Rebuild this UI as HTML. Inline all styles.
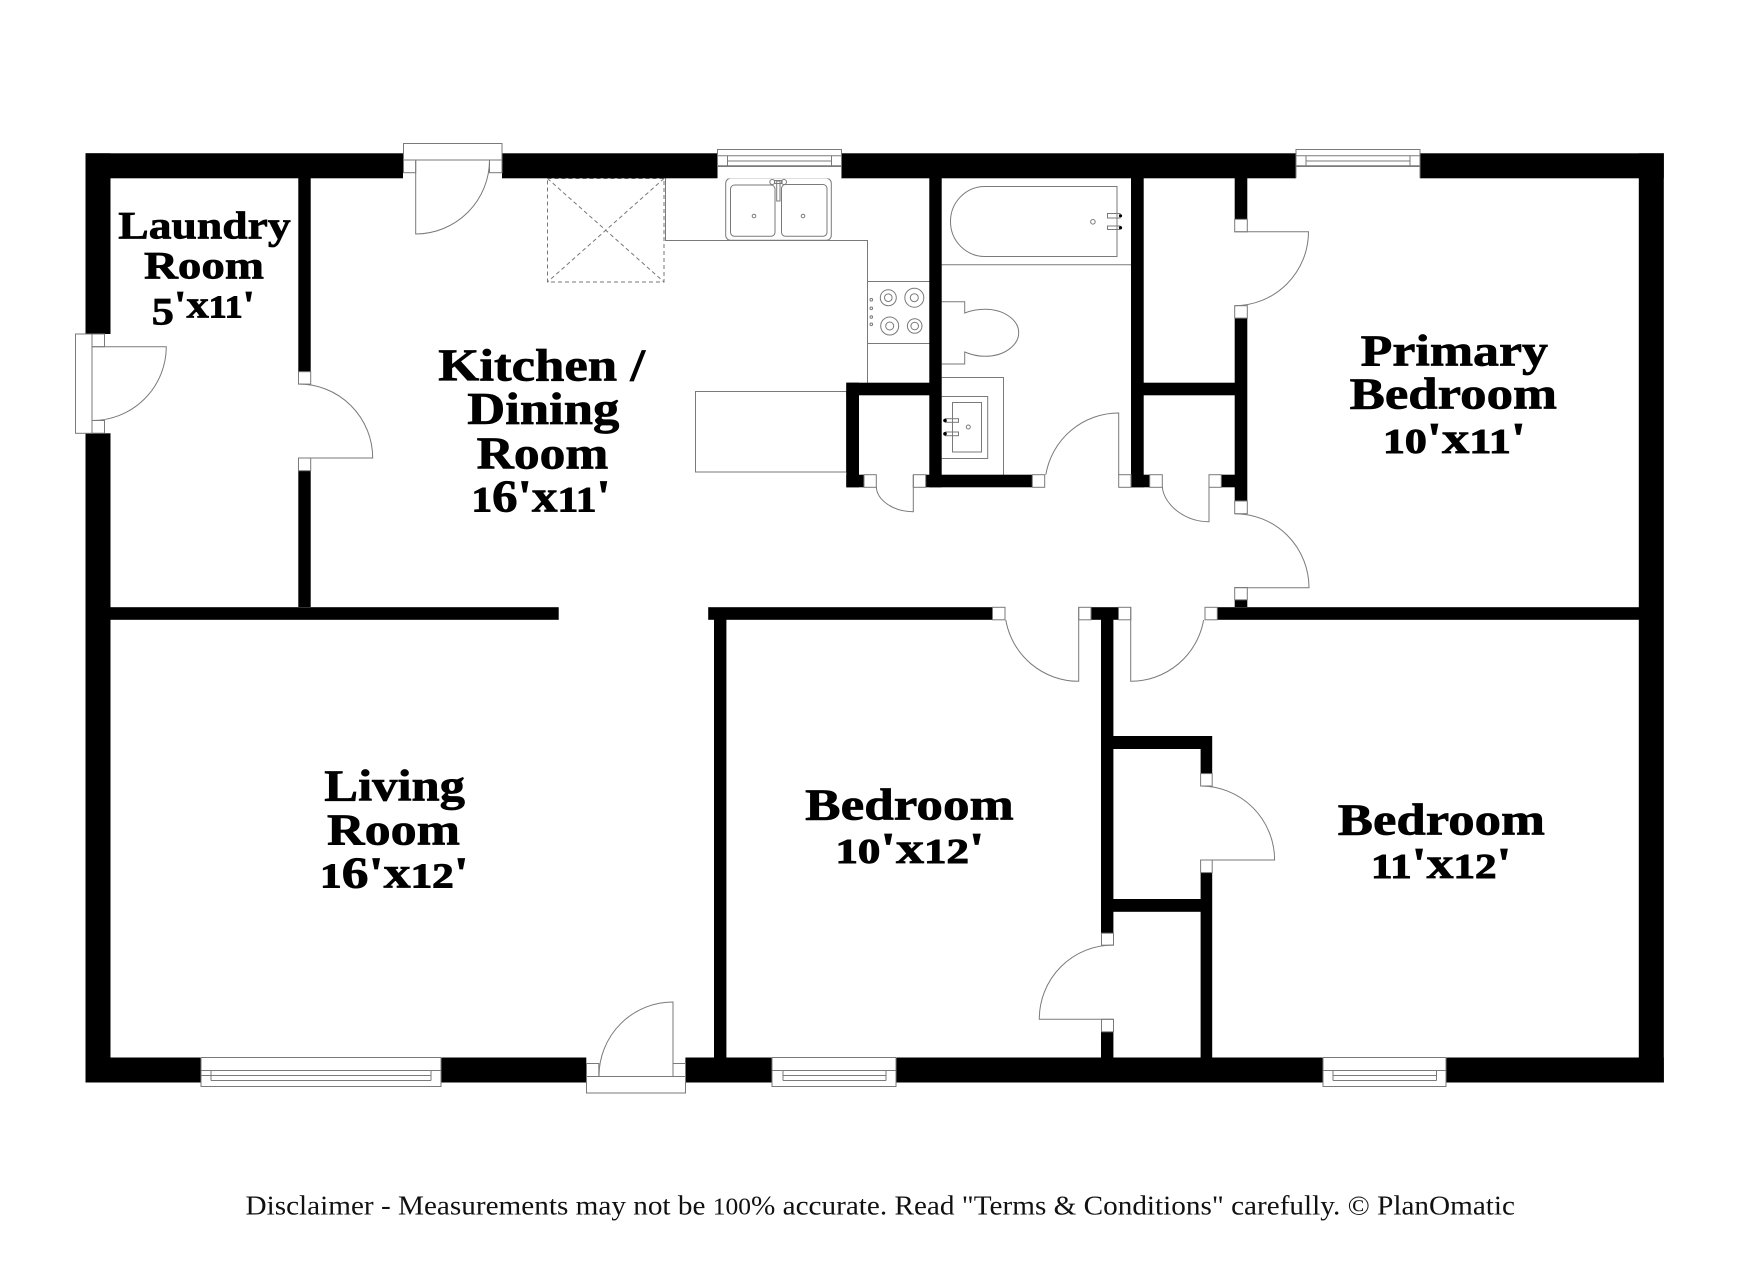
<!DOCTYPE html>
<html>
<head>
<meta charset="utf-8">
<style>
html,body{margin:0;padding:0;background:#fff;}
svg{display:block;}
.l{fill:#fff;stroke:#7a7a7a;stroke-width:1;}
.n{fill:none;stroke:#7a7a7a;stroke-width:1;}
.d{fill:none;stroke:#777;stroke-width:1;stroke-dasharray:4 3;}
.t{font-family:"Liberation Serif",serif;font-weight:bold;fill:#000;stroke:#000;stroke-width:.7;}
.s{font-size:80%;stroke-width:1;}
</style>
</head>
<body>
<svg width="1760" height="1280" viewBox="0 0 1760 1280" xmlns="http://www.w3.org/2000/svg">
<rect width="1760" height="1280" fill="#fff"/>

<!-- fixtures under walls -->
<g class="n">
<rect class="d" x="547.5" y="178.5" width="116.5" height="103.5"/>
<path class="d" d="M547.5 178.5L664 282M664 178.5L547.5 282"/>
<path d="M665.5 178V240.5H867.5V383"/>
<path d="M867.5 281.5H929.5M867.5 343.5H929.5"/>
<rect x="695.5" y="391.5" width="151" height="80.5"/>
<circle cx="888.3" cy="297.7" r="8"/><circle cx="888.3" cy="297.7" r="3.8"/>
<circle cx="914.3" cy="297.7" r="9.5"/><circle cx="914.3" cy="297.7" r="4"/>
<circle cx="889.7" cy="326" r="9"/><circle cx="889.7" cy="326" r="4"/>
<circle cx="914.7" cy="326" r="7.3"/><circle cx="914.7" cy="326" r="3.8"/>
<circle cx="871.3" cy="299.7" r="1.3"/><circle cx="871.3" cy="308.3" r="1.3"/><circle cx="871.3" cy="317" r="1.3"/><circle cx="871.3" cy="324.3" r="1.3"/>
<rect x="725.7" y="178.3" width="105.6" height="62" rx="5"/>
<rect x="730.5" y="185" width="44.5" height="51.3" rx="4"/>
<rect x="781.5" y="184.5" width="45.5" height="51.8" rx="4"/>
<circle cx="754" cy="216" r="1.8"/><circle cx="803" cy="216" r="1.8"/>
<circle cx="772.3" cy="182" r="2.5"/><circle cx="784" cy="182" r="2.5"/>
<rect x="774.5" y="180.5" width="7.5" height="3"/>
<rect x="776.7" y="181" width="3.3" height="20"/>
<path d="M1117 186.5H985C966 186.5 950.5 202 950.5 221.5C950.5 241 966 256.5 985 256.5H1117Z"/>
<circle cx="1092.9" cy="221.8" r="2.3"/>
<rect x="1107.5" y="213.5" width="12.5" height="4.5"/>
<rect x="1107.5" y="226" width="12.5" height="3.5"/>
<path d="M941.7 264.7H1131"/>
<path d="M941.7 301.7H964.7V313C972 310.3 978 309.3 985 309.3C1004 309.3 1018.7 320 1018.7 332.7C1018.7 345.5 1004 356.3 985 356.3C978 356.3 972 355 964.7 352V364H941.7"/>
<path d="M941.7 377.5H1003.5V475"/>
<path d="M941.7 396.5H987.7V458.5H941.7"/>
<rect x="952.5" y="402.5" width="29" height="49.5"/>
<circle cx="968.3" cy="427" r="2"/>
<rect x="945.5" y="418.7" width="13" height="3.6"/>
<rect x="945.5" y="432" width="13" height="3.7"/>
</g>
<g fill="#000">
<circle cx="1120.5" cy="215.8" r="1.6"/><circle cx="1120.5" cy="227.7" r="1.6"/>
<circle cx="945" cy="420.5" r="1.8"/><circle cx="945" cy="433.8" r="1.8"/>
</g>

<!-- walls -->
<g fill="#000">
<rect x="85.5" y="153.3" width="1578.3" height="25"/>
<rect x="85.5" y="1057.5" width="1578.3" height="25"/>
<rect x="85.5" y="153.3" width="25" height="929.2"/>
<rect x="1638.8" y="153.3" width="25" height="929.2"/>
<rect x="298.3" y="178" width="12.4" height="429"/>
<rect x="110" y="607.2" width="448.7" height="12.6"/>
<rect x="708.2" y="607.2" width="297" height="12.6"/>
<rect x="1078.7" y="607.2" width="52" height="12.6"/>
<rect x="1205" y="607.2" width="434" height="12.6"/>
<rect x="714" y="619" width="12.4" height="439"/>
<rect x="1101" y="619" width="12.4" height="439"/>
<rect x="1113" y="736" width="99" height="13"/>
<rect x="1200.6" y="736" width="11.6" height="322"/>
<rect x="1113" y="899" width="88" height="12.8"/>
<rect x="929.3" y="178" width="12.4" height="309.3"/>
<rect x="846.3" y="382.7" width="84" height="12.6"/>
<rect x="846.3" y="382.7" width="12.7" height="104.6"/>
<rect x="846.3" y="474.7" width="30" height="12.6"/>
<rect x="913.3" y="474.7" width="131.4" height="12.6"/>
<rect x="1118.7" y="474.7" width="43.6" height="12.6"/>
<rect x="1209" y="474.7" width="38" height="12.6"/>
<rect x="1131" y="178" width="12.7" height="309.3"/>
<rect x="1143" y="382.7" width="92" height="12.6"/>
<rect x="1234.7" y="178" width="12.6" height="429"/>
</g>

<!-- white openings -->
<g fill="#fff">
<rect x="85" y="334" width="26" height="99.3"/>
<rect x="403" y="153" width="99" height="25.5"/>
<rect x="717.3" y="153" width="124" height="25.5"/>
<rect x="1296" y="153" width="124" height="25.5"/>
<rect x="201" y="1057" width="239.8" height="26"/>
<rect x="772" y="1057" width="123.8" height="26"/>
<rect x="1323" y="1057" width="123" height="26"/>
<rect x="586.3" y="1057" width="99.1" height="26"/>
<rect x="298" y="371.7" width="13" height="99"/>
<rect x="1234" y="219.3" width="14" height="98.7"/>
<rect x="1234" y="501" width="14" height="98.7"/>
<rect x="1100.5" y="933.2" width="13.5" height="98.6"/>
<rect x="1200" y="773.6" width="13" height="99"/>
</g>

<!-- windows -->
<g>
<rect class="l" x="717.5" y="149.5" width="124" height="17"/>
<path class="n" d="M717.5 155.7H841.5M727.5 161H831.5M717.5 165.7H841.5M727.5 155.7V165.7M831.5 155.7V165.7M717.5 166V178M841.5 166V178"/>
<rect class="l" x="1296" y="149.5" width="124" height="17"/>
<path class="n" d="M1296 155.7H1420M1306 161H1410M1296 165.7H1420M1306 155.7V165.7M1410 155.7V165.7M1296 166V178M1420 166V178"/>
<rect class="l" x="201" y="1070.5" width="240" height="16"/>
<path class="n" d="M201 1075.5H431M211 1080.5H431M211 1070.5V1080.5M431 1070.5V1080.5M201 1057.5H441M201 1057.5V1070.5M441 1057.5V1070.5"/>
<rect class="l" x="772" y="1070.5" width="124" height="16"/>
<path class="n" d="M783 1075.5H886M783 1080.5H886M783 1070.5V1080.5M886 1070.5V1080.5M772 1057.5H896M772 1057.5V1070.5M896 1057.5V1070.5"/>
<rect class="l" x="1323" y="1070.5" width="123" height="16"/>
<path class="n" d="M1333 1075.5H1436.5M1333 1080.5H1436.5M1333 1070.5V1080.5M1436.5 1070.5V1080.5M1323 1057.5H1446M1323 1057.5V1070.5M1446 1057.5V1070.5"/>
</g>

<!-- exterior door frames -->
<g>
<rect class="l" x="403.5" y="143.5" width="98.5" height="16.5"/>
<rect class="l" x="403.5" y="160" width="12.2" height="12.7"/>
<rect class="l" x="489.5" y="160" width="12.5" height="12.7"/>
<rect class="l" x="75.5" y="334" width="16.5" height="99.3"/>
<rect class="l" x="92" y="334" width="12.5" height="12.7"/>
<rect class="l" x="92" y="420.5" width="12.5" height="12.7"/>
<rect class="l" x="586.5" y="1076.5" width="99" height="16.5"/>
<rect class="l" x="586.5" y="1063.5" width="12.3" height="13"/>
<rect class="l" x="673" y="1063.5" width="12.5" height="13"/>
</g>

<!-- jambs -->
<g class="l">
<rect x="298.5" y="371.7" width="12.2" height="12.4"/>
<rect x="298.5" y="458" width="12.2" height="12.7"/>
<rect x="992.5" y="607.3" width="12.5" height="12.5"/>
<rect x="1078.7" y="607.3" width="12.3" height="12.5"/>
<rect x="1118.5" y="607.3" width="12.3" height="12.5"/>
<rect x="1205" y="607.3" width="12.3" height="12.5"/>
<rect x="1101.5" y="933.2" width="12" height="12"/>
<rect x="1101.5" y="1019.3" width="12" height="12.5"/>
<rect x="1200.6" y="773.6" width="11.6" height="12.4"/>
<rect x="1200.6" y="860" width="11.6" height="12.6"/>
<rect x="864" y="474.7" width="12.3" height="12.6"/>
<rect x="913.3" y="474.7" width="12.4" height="12.6"/>
<rect x="1032.3" y="474.7" width="12.4" height="12.6"/>
<rect x="1118.7" y="474.7" width="12.3" height="12.6"/>
<rect x="1149.7" y="474.7" width="12.6" height="12.6"/>
<rect x="1209" y="474.7" width="12.3" height="12.6"/>
<rect x="1234.7" y="219.3" width="12.6" height="12.5"/>
<rect x="1234.7" y="305.7" width="12.6" height="12.4"/>
<rect x="1234.7" y="501" width="12.6" height="12.7"/>
<rect x="1234.7" y="587.5" width="12.6" height="12.3"/>
</g>

<!-- door swings -->
<g class="n">
<path d="M415.7 160V234A74 74 0 0 0 489.5 160"/>
<path d="M92 346.7H166.3A74 74 0 0 1 92 420.5Z"/>
<path d="M298.5 384A74 74 0 0 1 372.7 458H298.5"/>
<path d="M673 1076V1002A74 74 0 0 0 599 1076"/>
<path d="M1005.8 620A74 74 0 0 0 1078.7 681.3V607"/>
<path d="M1130.7 607V681.3A74 74 0 0 0 1203.6 620"/>
<path d="M1113.3 945A74 74 0 0 0 1039.3 1019.3H1113.3"/>
<path d="M1200.6 786A74 74 0 0 1 1274.6 860H1200.6"/>
<path d="M876.3 487C877 500 893 511.7 913.3 511.7V475"/>
<path d="M1045.8 474.7A74 74 0 0 1 1118.7 413V475"/>
<path d="M1162.3 487C1164 505 1185 521.7 1209 521.7V475"/>
<path d="M1234.7 231.8H1308.5A74 74 0 0 1 1234.7 305.7"/>
<path d="M1234.7 513.7A74 74 0 0 1 1309 587.7H1234.7"/>
</g>

<!-- labels -->
<g class="t">
<text x="118.3" y="238.3" font-size="39" textLength="172.4" lengthAdjust="spacingAndGlyphs">Laundry</text>
<text x="144" y="278.3" font-size="39" textLength="120" lengthAdjust="spacingAndGlyphs">Room</text>
<text x="151.7" y="317.3" font-size="39" textLength="103.3" lengthAdjust="spacingAndGlyphs"><tspan dy="7">5</tspan><tspan dy="-7">'x</tspan><tspan class="s">11</tspan>'</text>

<text x="438.3" y="380.7" font-size="45" textLength="206.7" lengthAdjust="spacingAndGlyphs">Kitchen /</text>
<text x="467.3" y="424" font-size="45" textLength="152" lengthAdjust="spacingAndGlyphs">Dining</text>
<text x="476.7" y="468.3" font-size="45" textLength="131.6" lengthAdjust="spacingAndGlyphs">Room</text>
<text x="471.5" y="511.7" font-size="45" textLength="139.2" lengthAdjust="spacingAndGlyphs"><tspan class="s">1</tspan>6'x<tspan class="s">11</tspan>'</text>

<text x="1360.7" y="365.4" font-size="44" textLength="187.3" lengthAdjust="spacingAndGlyphs">Primary</text>
<text x="1349.6" y="408.6" font-size="44" textLength="207.4" lengthAdjust="spacingAndGlyphs">Bedroom</text>
<text x="1383" y="452.9" font-size="44" textLength="143" lengthAdjust="spacingAndGlyphs"><tspan class="s">10</tspan>'x<tspan class="s">11</tspan>'</text>

<text x="324.3" y="800.7" font-size="44" textLength="140.7" lengthAdjust="spacingAndGlyphs">Living</text>
<text x="327" y="844.3" font-size="44" textLength="133" lengthAdjust="spacingAndGlyphs">Room</text>
<text x="320" y="887.5" font-size="44" textLength="148.8" lengthAdjust="spacingAndGlyphs"><tspan class="s">1</tspan>6'x<tspan class="s">12</tspan>'</text>

<text x="805.2" y="819.3" font-size="44" textLength="208.6" lengthAdjust="spacingAndGlyphs">Bedroom</text>
<text x="835.5" y="863.2" font-size="44" textLength="149" lengthAdjust="spacingAndGlyphs"><tspan class="s">10</tspan>'x<tspan class="s">12</tspan>'</text>

<text x="1337.8" y="834.3" font-size="44" textLength="207.2" lengthAdjust="spacingAndGlyphs">Bedroom</text>
<text x="1371" y="878.2" font-size="44" textLength="140.5" lengthAdjust="spacingAndGlyphs"><tspan class="s">11</tspan>'x<tspan class="s">12</tspan>'</text>
</g>

<text x="245.5" y="1214.5" font-family="'Liberation Serif',serif" font-size="27.5" fill="#111" textLength="1269.5" lengthAdjust="spacingAndGlyphs">Disclaimer - Measurements may not be <tspan font-size="24">100</tspan>% accurate. Read "Terms &amp; Conditions" carefully. © PlanOmatic</text>
</svg>
</body>
</html>
